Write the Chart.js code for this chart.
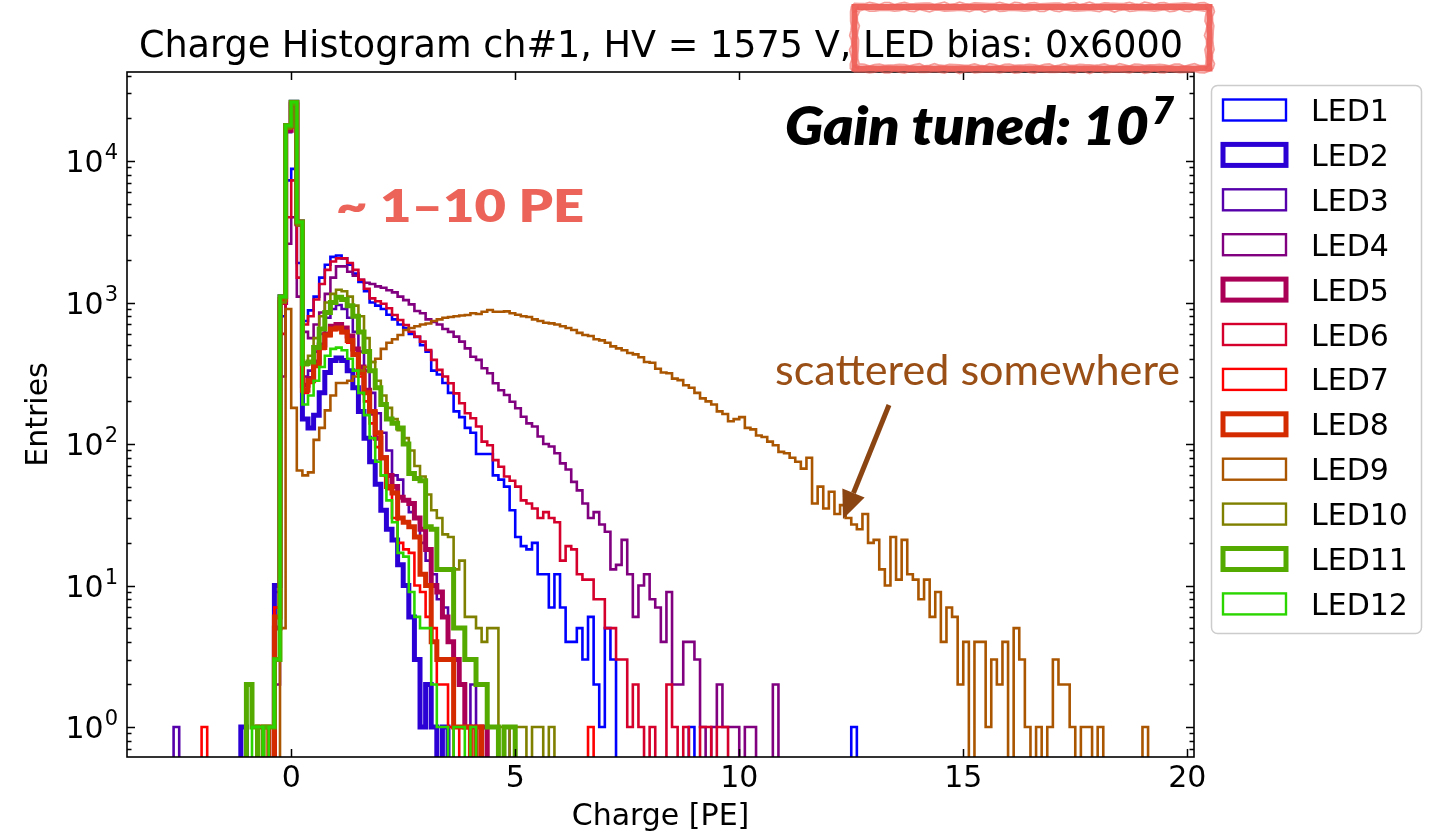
<!DOCTYPE html>
<html>
<head>
<meta charset="utf-8">
<title>Charge Histogram ch#1</title>
<script src="https://cdn.jsdelivr.net/npm/chart.js@4.4.1/dist/chart.umd.min.js"></script>
<style>
  html, body { margin: 0; padding: 0; background: #fff; }
  #wrap { position: relative; width: 1433px; height: 835px; }
</style>
</head>
<body>
<div id="wrap"><canvas id="chartCanvas"></canvas></div>
<script>
// histogram binning (PE)
const binWidth = 0.125;

const ledNames = ["LED1", "LED2", "LED3", "LED4", "LED5", "LED6",
                  "LED7", "LED8", "LED9", "LED10", "LED11", "LED12"];
const ledColors = ["#0000ff", "#2b00d5", "#5500aa", "#800080", "#aa0055", "#d5002b",
                   "#ff0000", "#d52b00", "#aa5500", "#808000", "#55aa00", "#2bd500"];
const ledThick = [false, true, false, false, true, false, false, true, false, false, true, false];

// index of the first filled bin of each LED
const ledStartBins = [-3, -9, -21, -3, -3, -3, -16, -6, -2, -4, -8, -7];

// entries per bin, starting at the bin above
const led1 = [9, 800, 7300, 8800, 1900,
  740, 880, 1100, 1500, 1850, 2100, 2150, 2050, 1850, 1600, 1400, 1200,
  1000, 950, 900, 820, 760, 700, 660, 600, 570, 500, 450, 330, 310, 270, 230, 170, 155, 130, 120, 85,
  85, 85, 60, 56, 50, 34, 22, 19, 18, 20, 12, 12, 7, 12, 7, 4, 4, 5, 3, 6, 2, 1, 5, 3,
  0, 0, 0, 0, 0, 0, 0, 0, 0, 0, 0, 0, 0, 1,
  0, 0, 0, 0, 0, 0, 0, 0, 0, 0, 0, 0, 0, 0, 0, 0, 0, 0, 0, 0, 0, 0, 0, 0, 0, 0, 0, 0, 1];
const led2 = [1, 0, 0, 0, 0, 0, 10, 1100, 17800, 26000, 3700,
  150, 130, 160, 230, 320, 390, 405, 390, 330, 250, 170, 110, 75, 52, 34, 25, 21, 14, 10, 6,
  3, 1, 2, 1, 0, 1];
const led3 = [1, 0, 0, 0, 0, 0, 0, 0, 0, 0, 0, 0, 0, 0, 0, 0, 0, 0, 3, 1000, 16000, 25000, 3500,
  300, 330, 450, 600, 780, 900, 960, 900, 780, 620, 450, 330, 230, 165, 120, 90, 60, 56, 40, 33,
  30, 20, 15, 12, 8, 7, 4, 3, 2, 1, 2, 1, 0, 1, 1, 0, 1];
const led4 = [2, 300, 2600, 4000, 1100,
  620, 560, 700, 850, 1150, 1500, 1800, 1800, 1650, 1550, 1450, 1380, 1350, 1300, 1270, 1220, 1180,
  1100, 1040, 970, 870, 840, 760, 730, 700, 650, 620, 574, 529, 474, 414, 393, 343, 316, 269, 240,
  222, 199, 179, 156, 140, 133, 113, 100, 96, 86, 73, 66, 54, 47, 38, 30, 33, 27, 24, 13, 14, 21,
  12, 6, 10, 12, 8, 7, 4, 9, 2, 2, 4, 4, 3, 1, 0, 1, 2, 1, 1, 1, 0, 1, 1, 0, 0, 0, 2];
const led5 = [5, 1000, 16500, 25000, 3600,
  260, 290, 380, 500, 600, 680, 700, 660, 580, 470, 350, 240, 165, 110, 80, 60, 50, 42, 40, 38,
  30, 25, 18, 10, 9, 6, 4, 3, 2, 1, 1, 0, 1];
const led6 = [7, 600, 4000, 7300, 1500,
  700, 800, 1050, 1350, 1700, 1950, 2050, 2050, 1900, 1700, 1450, 1250, 1070, 1020, 980, 910, 817,
  752, 693, 622, 574, 529, 462, 393, 334, 300, 269, 228, 194, 165, 152, 133, 104, 98, 77, 69, 59,
  55, 50, 40, 38, 35, 30, 33, 30, 28, 15, 19, 18, 12, 11, 11, 8, 8, 5, 5, 3, 3, 1, 2, 1, 0, 1,
  0, 0, 2, 1, 0, 1, 0, 0, 1, 1, 0, 1, 1];
const led7 = [1, 0, 0, 0, 0, 0, 0, 0, 0, 0, 0, 1, 0, 7, 1000, 17000, 25500, 3600,
  230, 270, 350, 470, 580, 640, 650, 610, 520, 420, 300, 200, 140, 95, 60, 48, 30, 20, 18, 17,
  10, 9, 6, 5, 2, 2, 1, 0, 1, 1,
  0, 0, 0, 0, 0, 0, 0, 0, 0, 0, 0, 0, 0, 0, 0, 0, 0, 0, 0, 0, 0, 1];
const led8 = [1, 1, 0, 6, 1050, 17500, 25800, 3700,
  240, 280, 360, 480, 590, 650, 660, 620, 540, 430, 320, 230, 170, 120, 80, 50, 45, 30, 28, 26,
  22, 12, 10, 4, 3, 3, 3, 1, 1, 1, 0, 1];
const led9 = [5, 900, 180, 65,
  60, 63, 107, 130, 173, 220, 270, 270, 280, 300, 330, 350,
  380, 400, 470, 520, 550, 590, 640, 660, 680, 700, 710, 740, 760, 780, 790, 800, 810, 816, 840, 830,
  860, 885, 860, 860, 865, 840, 820, 800, 790, 760, 740, 720, 712, 700, 680, 660, 640, 610, 590, 580,
  550, 540, 520, 490, 474, 460, 440, 430, 410, 380, 375, 340, 320, 316, 290, 283, 260, 250, 230, 210,
  200, 190, 170, 163, 145, 150, 155, 130, 127, 115, 112, 104, 98, 88, 86, 80, 75, 67, 80, 38,
  50, 35, 46, 32, 37, 30, 27, 25, 32, 20, 21, 13, 10, 22, 11, 21, 12, 11, 8, 11,
  6, 9, 4, 7, 6, 2, 4, 0, 4, 4, 1, 3, 2, 4, 0, 5, 3, 1, 0, 1,
  0, 1, 3, 2, 2, 1, 0, 1, 1, 0, 1, 0, 0, 0, 0, 0, 0, 0, 1];
const led10 = [1, 3, 1000, 17000, 25000, 3500,
  360, 420, 560, 800, 1000, 1150, 1230, 1200, 1100, 950, 800, 560, 380, 280, 220, 180, 150, 125,
  110, 90, 70, 59, 44, 34, 30, 23, 22, 13, 15, 6, 6, 5, 4, 5, 5, 1, 1, 0, 1, 1, 0, 1, 1, 0, 1];
const led11 = [2, 1, 0, 1, 1, 3, 1100, 17800, 26000, 3700,
  370, 380, 480, 650, 850, 1000, 1090, 1050, 950, 800, 620, 450, 330, 250, 190, 150, 140, 130,
  100, 62, 57, 55, 26, 25, 13, 13, 13, 5, 5, 3, 3, 2, 2, 1, 1, 0, 1, 1];
const led12 = [1, 1, 0, 1, 3, 1100, 17800, 26000, 3700,
  190, 220, 280, 350, 420, 470, 480, 460, 400, 330, 230, 160, 110, 75, 60, 40, 28, 17, 16, 9,
  6, 5, 5, 2, 1, 1, 0, 1, 1, 0, 1];

const ledCounts = [led1, led2, led3, led4, led5, led6, led7, led8, led9, led10, led11, led12];

// axis ranges and tick values
const xRange = [-3.665, 20.15];
const yRange = [0.614, 42560];
const xTickValues = [0, 5, 10, 15, 20];
const yDecades = [0, 1, 2, 3, 4];

// empty bins sit below the axis floor and get clipped away
const emptyLevel = 0.2;

function stepPoints(startBin, counts) {
  const pts = [{ x: startBin * binWidth, y: emptyLevel }];
  counts.forEach((c, i) => {
    pts.push({ x: (startBin + i) * binWidth, y: c > 0 ? c : emptyLevel });
  });
  pts.push({ x: (startBin + counts.length) * binWidth, y: emptyLevel });
  return pts;
}

const datasets = ledNames.map((name, i) => ({
  label: name,
  data: stepPoints(ledStartBins[i], ledCounts[i]),
  borderColor: ledColors[i],
  borderWidth: ledThick[i] ? 5 : 2.6,
  stepped: true,
  fill: false,
  pointRadius: 0,
  borderJoinStyle: "miter",
  borderCapStyle: "butt",
  order: ledNames.length - 1 - i, // last LED on top
}));

// draw text squeezed/stretched to a given width
function fitText(ctx, text, x, y, width) {
  const w = ctx.measureText(text).width;
  ctx.save();
  ctx.translate(x, y);
  ctx.scale(width / w, 1);
  ctx.fillText(text, 0, 0);
  ctx.restore();
}

// marker-pen rectangle: a solid core plus wobbly edges
function roughRect(ctx, x0, y0, x1, y1) {
  const corners = [[x0, y0], [x1, y0], [x1, y1], [x0, y1], [x0, y0]];
  ctx.lineWidth = 6;
  ctx.strokeStyle = "rgba(238,94,86,0.95)";
  ctx.strokeRect(x0, y0, x1 - x0, y1 - y0);
  ctx.strokeStyle = "rgba(238,94,86,0.6)";
  [-3.6, 3.6].forEach((off, pass) => {
    ctx.lineWidth = 1.8;
    ctx.beginPath();
    let n = 0;
    for (let e = 0; e < 4; e++) {
      const [ax, ay] = corners[e], [bx, by] = corners[e + 1];
      const len = Math.hypot(bx - ax, by - ay);
      const steps = Math.ceil(len / 5);
      const nx = -(by - ay) / len, ny = (bx - ax) / len;
      for (let s = 0; s <= steps; s++, n++) {
        const t = s / steps;
        const j = off + 0.8 * Math.sin(n * 1.7 + pass) + 0.6 * Math.sin(n * 4.1 + pass * 2);
        const px = ax + (bx - ax) * t + nx * j, py = ay + (by - ay) * t + ny * j;
        if (e === 0 && s === 0) ctx.moveTo(px, py); else ctx.lineTo(px, py);
      }
    }
    ctx.closePath();
    ctx.stroke();
  });
}

// frame, inward ticks, tick labels, legend and notes
const decorPlugin = {
  id: "decor",
  afterDraw(chart) {
    const ctx = chart.ctx;
    const xs = chart.scales.x;
    const ys = chart.scales.y;
    const a = chart.chartArea;
    ctx.save();

    // ticks
    ctx.strokeStyle = "#000";
    ctx.lineWidth = 1.5;
    ctx.beginPath();
    xTickValues.forEach((v) => {
      const px = Math.round(xs.getPixelForValue(v)) + 0.5;
      ctx.moveTo(px, a.bottom); ctx.lineTo(px, a.bottom - 8);
      ctx.moveTo(px, a.top); ctx.lineTo(px, a.top + 8);
    });
    for (let d = -1; d <= 4; d++) {
      for (let m = 1; m <= 9; m++) {
        const v = m * Math.pow(10, d);
        if (v < yRange[0] || v > yRange[1]) continue;
        const py = Math.round(ys.getPixelForValue(v)) + 0.5;
        const len = m === 1 ? 8 : 4.5;
        ctx.moveTo(a.left, py); ctx.lineTo(a.left + len, py);
        ctx.moveTo(a.right, py); ctx.lineTo(a.right - len, py);
      }
    }
    ctx.stroke();

    // frame
    ctx.lineWidth = 1.6;
    ctx.strokeRect(a.left, a.top, a.right - a.left, a.bottom - a.top);

    // x tick labels
    ctx.fillStyle = "#000";
    ctx.font = "30px 'DejaVu Sans'";
    ctx.textAlign = "center";
    ctx.textBaseline = "alphabetic";
    xTickValues.forEach((v) => {
      ctx.fillText(String(v), xs.getPixelForValue(v), 787);
    });

    // y tick labels 10^n
    yDecades.forEach((d) => {
      const py = ys.getPixelForValue(Math.pow(10, d));
      ctx.font = "21px 'DejaVu Sans'";
      const ew = ctx.measureText(String(d)).width;
      ctx.textAlign = "left";
      ctx.fillText(String(d), 118 - ew, py - 2);
      ctx.font = "30px 'DejaVu Sans'";
      ctx.textAlign = "right";
      ctx.fillText("10", 118 - ew - 1, py + 11);
    });

    // axis titles
    ctx.font = "30px 'DejaVu Sans'";
    ctx.textAlign = "center";
    ctx.fillText("Charge [PE]", (a.left + a.right) / 2, 825);
    ctx.save();
    ctx.translate(47, (a.top + a.bottom) / 2);
    ctx.rotate(-Math.PI / 2);
    ctx.fillText("Entries", 0, 0);
    ctx.restore();

    // title
    ctx.font = "36.6px 'DejaVu Sans'";
    ctx.fillText("Charge Histogram ch#1, HV = 1575 V, LED bias: 0x6000", 661, 57);

    // legend
    ctx.fillStyle = "rgba(255,255,255,0.85)";
    ctx.strokeStyle = "#cccccc";
    ctx.lineWidth = 1.5;
    ctx.beginPath();
    ctx.roundRect(1211.5, 85.5, 210, 548, 6);
    ctx.fill();
    ctx.stroke();
    ctx.font = "30px 'DejaVu Sans'";
    ctx.textAlign = "left";
    ledNames.forEach((name, i) => {
      const cy = 110 + i * 44.9;
      ctx.strokeStyle = ledColors[i];
      ctx.lineWidth = ledThick[i] ? 5 : 2.4;
      ctx.strokeRect(1223, cy - 10.5, 63, 21);
      ctx.fillStyle = "#000";
      ctx.fillText(name, 1311, cy + 11);
    });

    // gain note
    ctx.fillStyle = "#000";
    ctx.textAlign = "left";
    ctx.font = "italic 800 52px Lato";
    fitText(ctx, "Gain tuned: 10", 785, 145, 364);
    ctx.font = "italic 800 38px Lato";
    fitText(ctx, "7", 1152, 124, 22);

    // PE range note
    ctx.fillStyle = "#ec6459";
    ctx.font = "800 46px Lato";
    fitText(ctx, "~ 1\u201310 PE", 336, 222, 248);

    // scattered note with arrow
    ctx.fillStyle = "#9a4f16";
    ctx.font = "42px Lato";
    fitText(ctx, "scattered somewhere", 775, 385, 405);
    ctx.strokeStyle = "#8b4513";
    ctx.fillStyle = "#8b4513";
    ctx.lineWidth = 5;
    const tail = [889, 405], tip = [843, 519];
    const ang = Math.atan2(tip[1] - tail[1], tip[0] - tail[0]);
    const headLen = 28, headHalf = 12;
    const hx = tip[0] - headLen * Math.cos(ang), hy = tip[1] - headLen * Math.sin(ang);
    ctx.beginPath();
    ctx.moveTo(tail[0], tail[1]);
    ctx.lineTo(hx, hy);
    ctx.stroke();
    ctx.beginPath();
    ctx.moveTo(tip[0], tip[1]);
    ctx.lineTo(hx + headHalf * Math.sin(ang), hy - headHalf * Math.cos(ang));
    ctx.lineTo(hx - headHalf * Math.sin(ang), hy + headHalf * Math.cos(ang));
    ctx.closePath();
    ctx.fill();

    // marker box round the LED bias
    roughRect(ctx, 854.5, 7, 1209.5, 68.5);

    ctx.restore();
  },
};

const ctx = document.getElementById("chartCanvas").getContext("2d");
const chart = new Chart(ctx, {
  type: "line",
  data: { datasets },
  options: {
    responsive: true,
    maintainAspectRatio: false,
    animation: false,
    devicePixelRatio: 1,
    layout: { padding: { left: 127, top: 72, right: 239, bottom: 78 } },
    scales: {
      x: { type: "linear", min: xRange[0], max: xRange[1], bounds: "data", display: false },
      y: { type: "logarithmic", min: yRange[0], max: yRange[1], bounds: "data", display: false },
    },
    plugins: {
      legend: { display: false },
      tooltip: { enabled: false },
    },
    elements: { point: { radius: 0 }, line: { tension: 0 } },
  },
  plugins: [decorPlugin],
});
</script>
</body>
</html>
